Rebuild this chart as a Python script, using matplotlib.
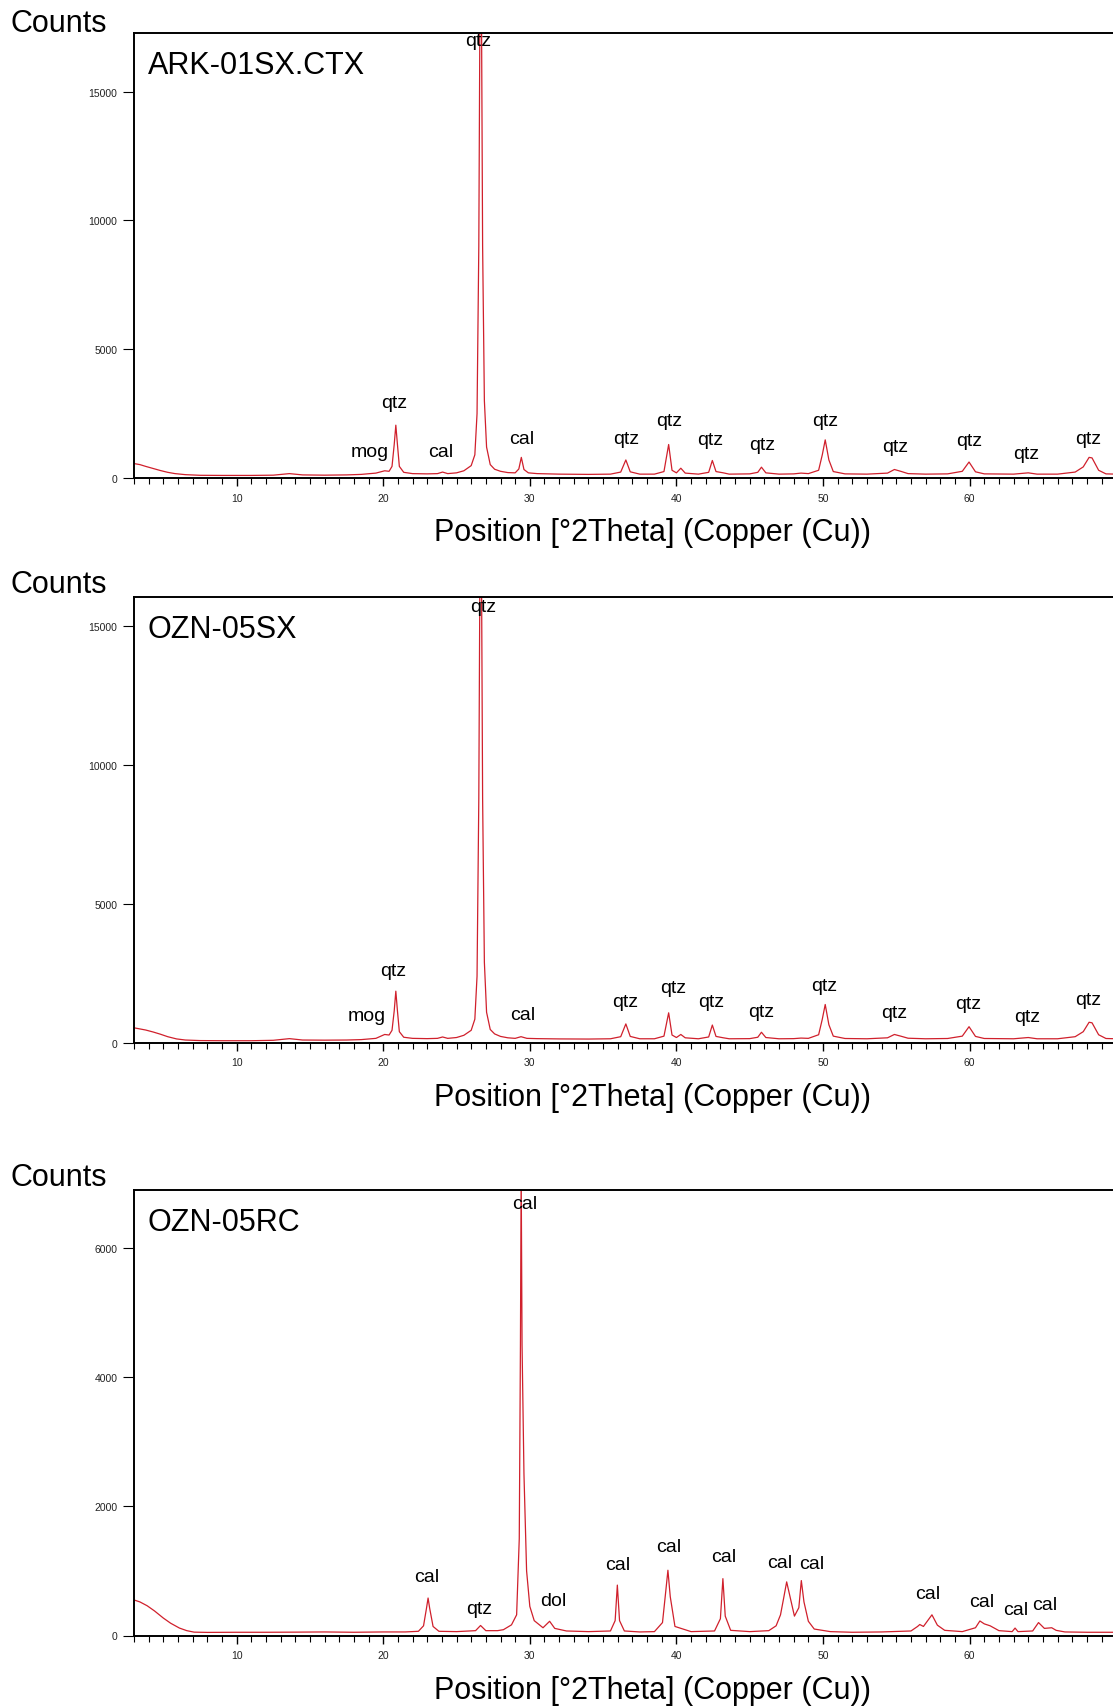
import matplotlib
matplotlib.use("Agg")
import matplotlib.pyplot as plt
from matplotlib import font_manager
from matplotlib.ticker import MultipleLocator, FixedLocator

# ---------------- data (2Theta in degrees, intensity in counts) ----------------
ark_2theta = [3.0, 3.4, 3.8, 4.3, 4.8, 5.3, 5.8, 6.5, 7.5, 9.0, 11.0, 12.5, 13.6, 14.5, 16.0,
              17.5, 18.5, 19.5, 20.1, 20.4, 20.6, 20.75, 20.86, 20.97, 21.1, 21.4, 22.0, 23.0,
              23.7, 24.05, 24.4, 25.0, 25.5, 26.0, 26.25, 26.4, 26.52, 26.6, 26.7, 26.78, 26.9,
              27.05, 27.3, 27.6, 28.0, 28.5, 29.0, 29.25, 29.42, 29.6, 29.9, 30.5, 32.0, 34.0,
              35.5, 36.2, 36.55, 36.85, 37.5, 38.5, 39.15, 39.47, 39.7, 40.0, 40.3, 40.6, 41.5,
              42.2, 42.45, 42.7, 43.2, 43.6, 45.0, 45.55, 45.8, 46.1, 47.0, 48.0, 48.5, 49.0,
              49.7, 49.95, 50.15, 50.4, 50.7, 51.5, 53.0, 54.4, 54.87, 55.3, 55.8, 57.0, 58.5,
              59.5, 59.96, 60.4, 61.0, 63.0, 64.0, 64.6, 66.0, 67.2, 67.75, 68.15, 68.35, 68.8,
              69.3, 70.0, 74.0]
ark_counts = [560, 520, 450, 370, 290, 220, 170, 130, 105, 100, 100, 110, 170, 120, 110,
              120, 140, 190, 280, 260, 450, 1300, 2050, 1300, 450, 220, 170, 160,
              170, 230, 170, 200, 280, 480, 900, 2500, 9000, 18500, 18500, 9000, 3000,
              1200, 520, 340, 260, 210, 200, 350, 800, 330, 200, 170, 150, 140,
              150, 230, 700, 240, 150, 150, 250, 1300, 300, 200, 380, 190, 150,
              220, 680, 250, 200, 150, 160, 220, 420, 200, 150, 160, 190, 170,
              300, 900, 1480, 700, 250, 160, 150, 190, 330, 260, 170, 150, 160,
              260, 620, 240, 160, 150, 200, 150, 150, 230, 430, 800, 780, 300,
              160, 150, 150]

sx_2theta = [3.0, 3.4, 3.8, 4.3, 4.8, 5.3, 5.9, 6.5, 7.5, 9.0, 11.0, 12.5, 13.6, 14.5, 16.0,
             17.5, 18.5, 19.5, 20.1, 20.4, 20.6, 20.75, 20.86, 20.97, 21.1, 21.4, 22.0, 23.0,
             23.7, 24.05, 24.4, 25.0, 25.5, 26.0, 26.25, 26.4, 26.52, 26.6, 26.7, 26.78, 26.9,
             27.05, 27.3, 27.6, 28.0, 28.5, 29.0, 29.4, 29.8, 30.5, 32.0, 34.0, 35.5, 36.2,
             36.55, 36.85, 37.5, 38.5, 39.15, 39.47, 39.7, 40.0, 40.3, 40.6, 41.5, 42.2, 42.45,
             42.7, 43.2, 43.6, 45.0, 45.55, 45.8, 46.1, 47.0, 48.0, 48.5, 49.0, 49.7, 49.95,
             50.15, 50.4, 50.7, 51.5, 53.0, 54.4, 54.87, 55.3, 55.8, 57.0, 58.5, 59.5, 59.96,
             60.4, 61.0, 63.0, 64.0, 64.6, 66.0, 67.2, 67.75, 68.15, 68.35, 68.8, 69.3, 70.0, 74.0]
sx_counts = [540, 500, 460, 390, 310, 220, 140, 100, 80, 75, 75, 90, 150, 100, 95,
             100, 115, 160, 300, 280, 450, 1150, 1860, 1150, 400, 200, 160, 150,
             160, 210, 160, 190, 270, 450, 850, 2400, 8800, 17500, 17500, 8800, 2900,
             1100, 480, 320, 230, 180, 160, 220, 160, 150, 140, 135, 145, 220,
             680, 230, 145, 145, 240, 1080, 280, 190, 300, 180, 145, 210, 640,
             230, 180, 145, 150, 200, 380, 190, 145, 150, 170, 160, 290, 850,
             1380, 650, 240, 155, 145, 180, 300, 240, 165, 145, 155, 240, 580,
             230, 155, 145, 190, 145, 145, 220, 400, 740, 720, 290, 155, 145, 145]

rc_2theta = [3.0, 3.4, 3.9, 4.4, 5.0, 5.5, 6.1, 6.6, 7.1, 8.0, 10.0, 12.0, 14.0, 16.0, 18.0,
             20.0, 21.5, 22.4, 22.75, 22.95, 23.06, 23.17, 23.4, 23.8, 25.0, 26.3, 26.64, 27.0,
             27.8, 28.2, 28.75, 29.1, 29.28, 29.36, 29.41, 29.47, 29.6, 29.78, 30.0, 30.3, 30.9,
             31.35, 31.7, 32.5, 34.0, 35.5, 35.82, 35.97, 36.12, 36.45, 37.5, 38.5, 39.05, 39.28,
             39.42, 39.58, 39.9, 41.0, 42.6, 43.0, 43.17, 43.33, 43.7, 45.0, 46.3, 46.8, 47.1,
             47.3, 47.52, 47.75, 48.05, 48.35, 48.52, 48.7, 49.0, 49.4, 50.5, 52.0, 54.0, 56.0,
             56.45, 56.6, 56.85, 57.43, 57.8, 58.3, 59.5, 60.4, 60.7, 61.0, 61.4, 62.0, 62.9,
             63.1, 63.3, 64.3, 64.7, 65.1, 65.6, 65.9, 66.5, 68.0, 70.0, 74.0]
rc_counts = [550, 520, 460, 380, 270, 190, 115, 75, 52, 48, 50, 50, 52, 55, 50,
             55, 55, 65, 150, 420, 580, 420, 140, 65, 60, 75, 155, 75,
             75, 90, 165, 320, 1500, 4500, 7200, 4500, 2500, 1000, 450, 230, 120,
             220, 110, 70, 60, 70, 230, 780, 230, 70, 55, 60, 200, 700,
             1010, 600, 140, 60, 70, 260, 880, 300, 80, 60, 75, 150, 320,
             560, 830, 600, 300, 430, 850, 520, 220, 100, 60, 50, 55, 70,
             140, 170, 140, 320, 160, 80, 60, 120, 225, 180, 150, 75, 60,
             115, 60, 70, 200, 110, 120, 80, 55, 50, 50, 50]

sample_names = ["ARK-01SX.CTX", "OZN-05SX", "OZN-05RC"]
y_maxima = [17290, 16060, 6895]
y_tick_values = [[0, 5000, 10000, 15000], [0, 5000, 10000, 15000], [0, 2000, 4000, 6000]]
x_tick_values = [10, 20, 30, 40, 50, 60]

ark_label_text = ["qtz", "mog", "qtz", "cal", "cal", "qtz", "qtz", "qtz", "qtz", "qtz",
                  "qtz", "qtz", "qtz", "qtz"]
ark_label_x = [26.5, 19.05, 20.78, 23.9, 29.45, 36.55, 39.5, 42.3, 45.85, 50.15,
               54.9, 59.95, 63.85, 68.1]
ark_label_y = [16990, 1025, 2946, 1025, 1537, 1537, 2220, 1495, 1281, 2220,
               1238, 1452, 939, 1537]

sx_label_text = ["qtz", "mog", "qtz", "cal", "qtz", "qtz", "qtz", "qtz", "qtz", "qtz", "qtz",
                 "qtz", "qtz"]
sx_label_x = [26.8, 18.9, 20.7, 29.5, 36.5, 39.75, 42.35, 45.8, 50.1, 54.85, 59.9, 63.9, 68.1]
sx_label_y = [15710, 976, 2617, 1016, 1484, 1992, 1484, 1133, 2070, 1094, 1406, 937, 1562]

rc_label_text = ["cal", "cal", "qtz", "dol", "cal", "cal", "cal", "cal", "cal", "cal", "cal",
                 "cal", "cal"]
rc_label_x = [29.65, 22.98, 26.55, 31.6, 35.98, 39.45, 43.25, 47.05, 49.2, 57.15, 60.8, 63.15,
              65.1]
rc_label_y = [6693, 915, 424, 542, 1102, 1373, 1220, 1136, 1119, 644, 525, 407, 475]

# ---------------- styling / layout ----------------
W, H = 1113, 1708
fig = plt.figure(figsize=(W / 100, H / 100), dpi=100)
fig.patch.set_facecolor("white")

names = {f.name for f in font_manager.fontManager.ttflist}
main_font = "Liberation Sans" if "Liberation Sans" in names else "DejaVu Sans"
plt.rcParams["font.family"] = main_font

LINE_COLOR = "#d0202c"
X_LEFT_PX = 134.0
PX_PER_DEG = 14.66
X_MIN, X_MAX = 3.0, 74.0

# (axes top px, axes bottom px, Counts baseline px, title baseline px, xlabel baseline px)
panel_px = [(33.5, 479.0, 32.0, 74.0, 541.5),
            (598.0, 1043.8, 593.3, 638.3, 1106.0),
            (1191.0, 1636.5, 1186.0, 1231.0, 1699.5)]

series = [(ark_2theta, ark_counts, ark_label_text, ark_label_x, ark_label_y),
          (sx_2theta, sx_counts, sx_label_text, sx_label_x, sx_label_y),
          (rc_2theta, rc_counts, rc_label_text, rc_label_x, rc_label_y)]

for i, (xs, ys, ltxt, lx, ly) in enumerate(series):
    top_px, bot_px, counts_px, title_px, xlab_px = panel_px[i]
    width_px = (X_MAX - X_MIN) * PX_PER_DEG
    ax = fig.add_axes([X_LEFT_PX / W, 1 - bot_px / H, width_px / W, (bot_px - top_px) / H])
    ax.plot(xs, ys, color=LINE_COLOR, lw=0.9, solid_joinstyle="round")
    ax.set_xlim(X_MIN, X_MAX)
    ax.set_ylim(0, y_maxima[i])

    for side in ["left", "top", "bottom"]:
        ax.spines[side].set_linewidth(1.4)
        ax.spines[side].set_color("black")
    ax.spines["right"].set_visible(False)

    ax.xaxis.set_major_locator(FixedLocator(x_tick_values))
    ax.xaxis.set_minor_locator(MultipleLocator(1))
    ax.yaxis.set_major_locator(FixedLocator(y_tick_values[i]))
    ax.tick_params(axis="x", which="major", direction="out", length=5.5, width=1.0,
                   pad=5, labelsize=7.5, colors="black", labelcolor="#222222")
    ax.tick_params(axis="x", which="minor", direction="out", length=4, width=0.8)
    ax.tick_params(axis="y", which="major", direction="out", length=8, width=0.8,
                   pad=4, labelsize=7.5, labelcolor="#222222")
    ax.tick_params(top=False, right=False)

    for t, x, y in zip(ltxt, lx, ly):
        ax.text(x, y, t, ha="center", va="center", fontsize=14, color="black")

    fig.text(10 / W, 1 - counts_px / H, "Counts", ha="left", va="baseline", fontsize=22)
    fig.text(148 / W, 1 - title_px / H, sample_names[i], ha="left", va="baseline",
             fontsize=22)
    fig.text(653 / W, 1 - xlab_px / H, "Position [°2Theta] (Copper (Cu))", ha="center",
             va="baseline", fontsize=22)

fig.savefig("out.png", dpi=100, facecolor="white")
